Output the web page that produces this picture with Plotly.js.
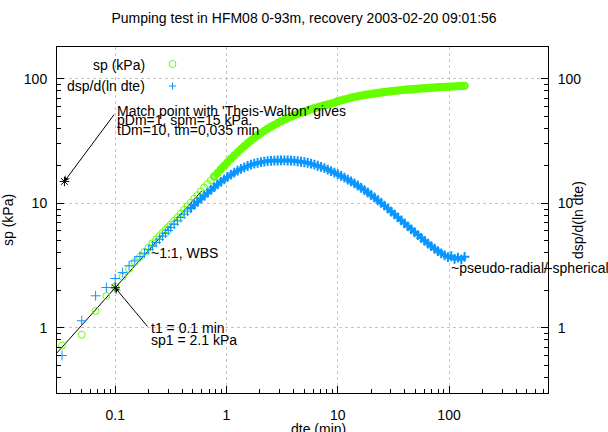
<!DOCTYPE html>
<html>
<head>
<meta charset="utf-8">
<script src="https://cdn.plot.ly/plotly-3.0.1.min.js"></script>
<style>html,body{margin:0;padding:0;background:#fff;}#chart{width:608px;height:432px;}</style>
</head>
<body>
<div id="chart"></div>
<script>
// ---- data ----
const tMin = [0.0333,0.05,0.0667,0.0833,0.1,0.1167,0.1333,0.15,0.1667,0.1833,0.2,0.2167,0.2333,0.25,0.2667,0.2833,0.3,
  0.316,0.339,0.363,0.389,0.417,0.447,0.479,0.513,0.550,0.589,
  0.631,0.676,0.724,0.776,0.832,0.891,0.955,1.023,1.096,1.175,
  1.259,1.349,1.445,1.549,1.660,1.778,1.905,2.042,2.188,2.344,
  2.512,2.692,2.884,3.090,3.311,3.548,3.802,4.074,4.365,4.677,
  5.012,5.370,5.754,6.166,6.607,7.079,7.586,8.128,8.710,9.333,
  10.00,10.72,11.48,12.30,13.18,14.13,15.14,16.22,17.38,18.62,
  19.95,21.38,22.91,24.55,26.30,28.18,30.20,32.36,34.67,37.15,
  39.81,42.66,45.71,48.98,52.48,56.23,60.26,64.57,69.18,74.13,
  79.43,85.11,91.20,97.72,104.7,112.2,120.2,128.8,138.0];

const spKPa = [0.72,0.88,1.37,1.80,2.15,2.58,2.98,3.38,3.72,4.08,4.42,4.78,5.12,5.46,5.80,6.13,6.45,
  6.75,7.23,7.73,8.28,8.87,9.48,10.16,10.89,11.64,12.47,
  13.37,14.29,15.31,16.41,17.54,18.79,20.04,21.38,22.80,24.21,
  25.70,27.23,28.77,30.34,31.92,33.50,35.08,36.64,38.19,39.72,
  41.21,42.66,44.16,45.60,46.99,48.31,49.66,50.93,52.24,53.46,
  54.58,55.72,56.89,57.94,59.02,60.12,61.24,62.23,63.24,64.27,
  66.07,67.14,68.23,69.34,70.47,71.61,72.44,73.28,74.13,74.82,
  75.51,76.21,76.91,77.62,78.34,78.89,79.43,79.98,80.54,81.10,
  81.66,82.04,82.41,82.79,83.18,83.56,83.95,84.33,84.72,85.11,
  85.51,85.90,86.10,86.30,86.70,86.90,87.30,87.50,87.70];

const dspKPa = [0.60,1.14,1.81,2.11,2.49,2.78,3.15,3.45,3.74,3.98,4.25,4.55,4.85,5.15,5.45,5.75,6.05,
  6.38,6.79,7.23,7.69,8.17,8.67,9.18,9.72,10.28,10.89,
  11.51,12.13,12.82,13.49,14.19,14.89,15.60,16.29,16.98,17.62,
  18.28,18.88,19.45,19.95,20.42,20.80,21.13,21.43,21.63,21.83,
  21.93,22.03,22.08,22.13,22.13,22.08,22.03,21.93,21.78,21.58,
  21.38,21.13,20.80,20.46,20.04,19.63,19.19,18.66,18.16,17.66,
  17.14,16.60,16.07,15.52,15.00,14.45,13.90,13.34,12.79,12.22,
  11.67,11.14,10.59,10.07,9.57,9.08,8.59,8.15,7.71,7.29,
  6.90,6.53,6.19,5.86,5.56,5.27,5.00,4.75,4.53,4.32,
  4.13,3.97,3.83,3.70,3.76,3.58,3.66,3.55,3.72];

const wbsLineT = [0.03, 0.6];
const wbsLineS = [0.63, 12.6];
const matchT = [0.035, 0.1];
const matchS = [15, 2.1];

const xTickVals = [0.1, 1, 10, 100];
const xTickText = ['0.1', '1', '10', '100'];
const yTickVals = [1, 10, 100];
const yTickText = ['1', '10', '100'];

// ---- styling ----
const GREEN = '#66ff00';
const BLUE = '#0a96ff';
const FAM = 'Liberation Sans, Arial, sans-serif';
const L = Math.log10;

function minorVals(lo, hi) {
  const v = [];
  for (let e = lo; e <= hi; e++) for (let k = 2; k <= 9; k++) v.push(k * Math.pow(10, e));
  return v;
}
const xRange = [L(0.03), L(775)];
const yRange = [L(0.3), L(180)];

// split each series into its sparse early part and its dense later part (same data)
function part(arr, cond) { return arr.filter((v, i) => cond(tMin[i])); }
const spEarly = t => t < 0.8, spLate = t => t >= 0.75;
const dsEarly = t => t < 0.5, dsLate = t => t >= 0.47;

const traces = [
  {x: wbsLineT, y: wbsLineS, mode: 'lines', line: {color: 'black', width: 1},
   showlegend: false, hoverinfo: 'skip'},
  {x: part(tMin, spEarly), y: part(spKPa, spEarly), mode: 'markers', name: 'sp (kPa)', showlegend: false,
   marker: {symbol: 'circle-open', size: 7, color: GREEN, line: {color: GREEN, width: 1}}},
  {x: part(tMin, spLate), y: part(spKPa, spLate), mode: 'lines+markers', name: 'sp (kPa)', showlegend: false,
   line: {color: GREEN, width: 5},
   marker: {symbol: 'circle-open', size: 6, color: GREEN, line: {color: GREEN, width: 2.4}}},
  {x: part(tMin, dsEarly), y: part(dspKPa, dsEarly), yaxis: 'y2', mode: 'markers', name: 'dsp/d(ln dte)', showlegend: false,
   marker: {symbol: 'cross-thin-open', size: 7, color: BLUE, line: {color: BLUE, width: 1}}},
  {x: part(tMin, dsLate), y: part(dspKPa, dsLate), yaxis: 'y2', mode: 'lines+markers', name: 'dsp/d(ln dte)', showlegend: false,
   line: {color: BLUE, width: 4},
   marker: {symbol: 'cross-thin-open', size: 7, color: BLUE, line: {color: BLUE, width: 2}}},
  {x: matchT, y: matchS, mode: 'markers', showlegend: false, hoverinfo: 'skip',
   marker: {symbol: 'asterisk-open', size: 8, color: 'black', line: {color: 'black', width: 1}}}
];

const axisCommon = {
  type: 'log', tickmode: 'array', ticks: 'inside', ticklen: 7, tickwidth: 1, tickcolor: 'black',
  showline: true, linecolor: 'black', linewidth: 1, zeroline: false,
  tickfont: {family: FAM, size: 14, color: 'black'}
};

const plotL = 57, plotR = 548, plotT = 47, plotB = 393;
const px = X => (X - plotL) / (plotR - plotL);
const py = Y => (plotB - Y) / (plotB - plotT);

function txt(x, y, text, extra) {
  return Object.assign({x: x, y: y, xref: 'x', yref: 'y', text: text, showarrow: false,
    xanchor: 'left', yanchor: 'middle', font: {family: FAM, size: 14, color: 'black'}}, extra || {});
}

const annotations = [
  txt(L(0.1), L(54.8), "Match point with 'Theis-Walton' gives"),
  txt(L(0.1), L(46.9), 'pDm=1, spm=15 kPa.'),
  txt(L(0.1), L(38.9), 'tDm=10, tm=0,035 min'),
  {x: L(0.035), y: L(15), xref: 'x', yref: 'y', ax: L(0.1), ay: L(53), axref: 'x', ayref: 'y',
   text: '', showarrow: true, arrowhead: 3, arrowsize: 1, arrowwidth: 1, arrowcolor: 'black', standoff: 0},
  txt(L(0.2), L(4.0), '~1:1, WBS'),
  txt(L(0.2), L(1.0), 't1 = 0.1 min'),
  txt(L(0.2), L(0.794), 'sp1 = 2.1 kPa'),
  {x: L(0.1), y: L(2.1), xref: 'x', yref: 'y', ax: L(0.2), ay: L(1.0), axref: 'x', ayref: 'y',
   text: '', showarrow: true, arrowhead: 3, arrowsize: 1, arrowwidth: 1, arrowcolor: 'black', standoff: 0},
  txt(L(100), L(3.05), '~pseudo-radial/-spherical'),
  // legend texts
  txt(px(147), py(65), 'sp (kPa)', {xref: 'paper', yref: 'paper', xanchor: 'right'}),
  txt(px(147), py(86), 'dsp/d(ln dte)', {xref: 'paper', yref: 'paper', xanchor: 'right'}),
  // axis titles
  txt(px(318.5), py(429), 'dte (min)', {xref: 'paper', yref: 'paper', xanchor: 'center'}),
  txt(px(578), py(220), 'dsp/d(ln dte)', {xref: 'paper', yref: 'paper', xanchor: 'center', textangle: -90})
];

const shapes = [
  {type: 'rect', xref: 'paper', yref: 'paper', x0: 0, x1: px(200), y0: py(95), y1: 1,
   fillcolor: 'white', line: {width: 0}, layer: 'between'},
  {type: 'circle', xref: 'paper', yref: 'paper', xsizemode: 'pixel', ysizemode: 'pixel',
   xanchor: px(172.5), yanchor: py(64), x0: -3.5, x1: 3.5, y0: -3.5, y1: 3.5,
   line: {color: GREEN, width: 1}, layer: 'above'},
  {type: 'path', xref: 'paper', yref: 'paper', xsizemode: 'pixel', ysizemode: 'pixel',
   xanchor: px(172.5), yanchor: py(86), path: 'M-3.5,0H3.5M0,-3.5V3.5',
   line: {color: BLUE, width: 1}, layer: 'above'}
];

const layout = {
  width: 608, height: 432,
  margin: {l: plotL, r: 608 - plotR, t: plotT, b: 432 - plotB, pad: 0},
  paper_bgcolor: 'white', plot_bgcolor: 'white',
  font: {family: FAM, size: 14, color: 'black'},
  showlegend: false,
  title: {text: 'Pumping test in HFM08 0-93m, recovery 2003-02-20 09:01:56',
          x: 0.5, xanchor: 'center', y: 1 - 18 / 432, yanchor: 'middle',
          font: {family: FAM, size: 14, color: 'black'}},
  xaxis: Object.assign({}, axisCommon, {
    range: xRange, tickvals: xTickVals, ticktext: xTickText, mirror: true,
    showgrid: true, gridcolor: '#c4c4c4', griddash: 'dot', gridwidth: 1,
    ticklabelstandoff: 9,
    minor: {tickmode: 'array', tickvals: minorVals(-2, 2), ticks: 'inside', ticklen: 4,
            tickcolor: 'black', tickwidth: 1, showgrid: false}
  }),
  yaxis: Object.assign({}, axisCommon, {
    range: yRange, tickvals: yTickVals, ticktext: yTickText, mirror: true,
    showgrid: true, gridcolor: '#c4c4c4', griddash: 'dot', gridwidth: 1,
    ticklabelstandoff: 6,
    title: {text: 'sp (kPa)', standoff: 6, font: {family: FAM, size: 14, color: 'black'}},
    minor: {tickmode: 'array', tickvals: minorVals(-1, 2), ticks: 'inside', ticklen: 4,
            tickcolor: 'black', tickwidth: 1, showgrid: false}
  }),
  yaxis2: Object.assign({}, axisCommon, {
    range: yRange, tickvals: yTickVals, ticktext: yTickText, overlaying: 'y', side: 'right',
    showgrid: false, ticklabelstandoff: 6,
    minor: {tickmode: 'array', tickvals: minorVals(-1, 2), ticks: 'inside', ticklen: 4,
            tickcolor: 'black', tickwidth: 1, showgrid: false}
  }),
  annotations: annotations,
  shapes: shapes
};

Plotly.newPlot('chart', traces, layout, {displayModeBar: false, staticPlot: true});
</script>
</body>
</html>
